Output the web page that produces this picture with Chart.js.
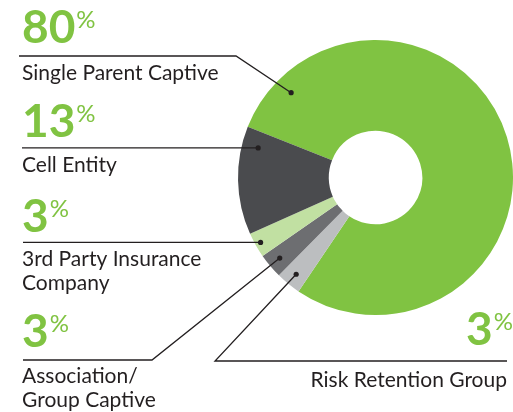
<!DOCTYPE html>
<html>
<head>
<meta charset="utf-8">
<script src="https://cdn.jsdelivr.net/npm/chart.js@4"></script>
<style>
  body { margin: 0; background: #fff; }
  canvas { display: block; }
</style>
</head>
<body>
<canvas id="chart-1" width="513" height="412"></canvas>
<script>
// slices in clockwise drawing order
const labels = ["Single Parent Captive", "Risk Retention Group", "Association/\nGroup Captive", "3rd Party Insurance\nCompany", "Cell Entity"];
const values = [80, 3, 3, 3, 13];
const colors = ["#80c342", "#bcbec0", "#6d6e71", "#c1e0a2", "#4a4b4e"];

// where each callout sits (layout only)
const callouts = [
  { num: [22, 43], text: [22, 80], align: "left", path: [[19, 56], [236, 56]], frac: 0.083, rr: 0.87 },
  { num: [513, 345], text: [507, 387], align: "right", path: [[507, 361], [215, 361]], frac: 0.5, rr: 0.91 },
  { num: [22, 347], text: [22, 383], align: "left", path: [[23, 360], [152, 360]], frac: 0.5, rr: 0.91 },
  { num: [22, 232], text: [22, 266], align: "left", flat: 23, frac: 0.5, rr: 0.96 },
  { num: [22, 137], text: [22, 172], align: "left", flat: 22, frac: 0.835, rr: 0.88 },
];

const calloutPlugin = {
  id: "callouts",
  afterDraw(chart) {
    const ctx = chart.ctx;
    const arcs = chart.getDatasetMeta(0).data;
    arcs.forEach((arc, i) => {
      const c = callouts[i];
      const p = arc.getProps(["x", "y", "startAngle", "endAngle", "outerRadius"], true);
      const a = p.startAngle + (p.endAngle - p.startAngle) * c.frac;
      const dx = p.x + Math.cos(a) * p.outerRadius * c.rr;
      const dy = p.y + Math.sin(a) * p.outerRadius * c.rr;

      ctx.save();
      ctx.strokeStyle = "#231f20";
      ctx.lineWidth = 1.3;
      ctx.beginPath();
      if (c.path) {
        ctx.moveTo(c.path[0][0], c.path[0][1]);
        c.path.slice(1).forEach(pt => ctx.lineTo(pt[0], pt[1]));
      } else {
        ctx.moveTo(c.flat, dy);
      }
      ctx.lineTo(dx, dy);
      ctx.stroke();
      ctx.fillStyle = "#231f20";
      ctx.beginPath();
      ctx.arc(dx, dy, 2.6, 0, Math.PI * 2);
      ctx.fill();

      // big percentage
      const num = String(values[i]);
      ctx.fillStyle = "#80c342";
      ctx.textBaseline = "alphabetic";
      ctx.font = "bold 46px Lato";
      const nw = ctx.measureText(num).width;
      ctx.font = "24px Lato";
      const pw = ctx.measureText("%").width;
      let x0 = c.align === "right" ? c.num[0] - nw - pw - 1 : c.num[0];
      ctx.font = "bold 46px Lato";
      ctx.textAlign = "left";
      ctx.fillText(num, x0, c.num[1]);
      ctx.font = "24px Lato";
      ctx.fillText("%", x0 + nw + 1, c.num[1] - 15);

      // category name
      ctx.fillStyle = "#231f20";
      ctx.font = "21px Lato";
      ctx.textAlign = c.align;
      labels[i].split("\n").forEach((line, k) => {
        ctx.fillText(line, c.text[0], c.text[1] + k * 24);
      });
      ctx.restore();
    });
  }
};

const ctx1 = document.getElementById("chart-1").getContext("2d");
const myChart = new Chart(ctx1, {
  type: "doughnut",
  data: {
    labels: labels,
    datasets: [
      {
        data: values,
        backgroundColor: colors,
        borderWidth: 0,
      },
    ],
  },
  options: {
    responsive: false,
    animation: false,
    cutout: "34%",
    rotation: -68.3,
    layout: { padding: { left: 238, right: 0, top: 40, bottom: 97 } },
    plugins: {
      legend: { display: false },
      tooltip: { enabled: false },
    },
  },
  plugins: [calloutPlugin],
});
</script>
</body>
</html>
